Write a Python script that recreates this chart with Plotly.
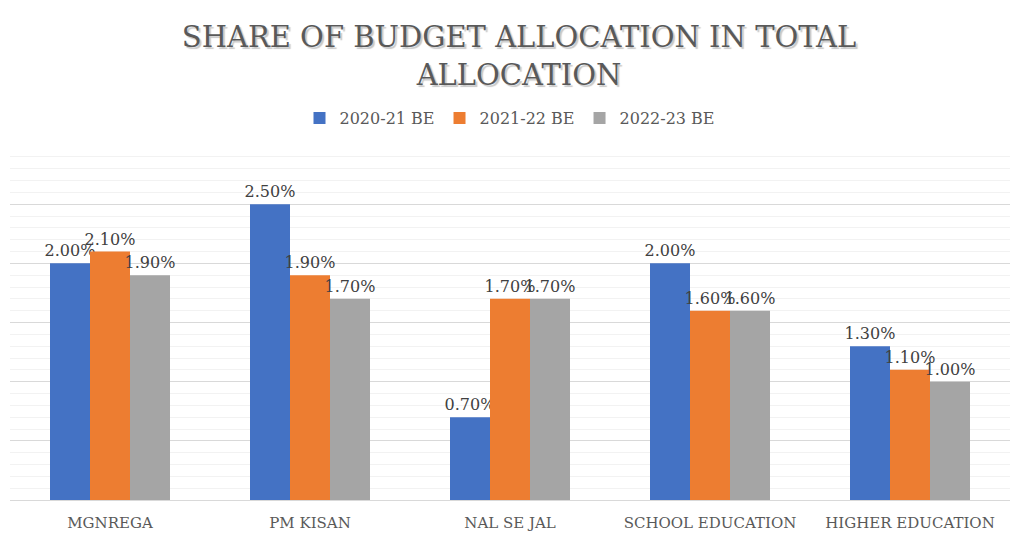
import plotly.graph_objects as go

categories = ["MGNREGA", "PM KISAN", "NAL SE JAL", "SCHOOL EDUCATION", "HIGHER EDUCATION"]
series_names = ["2020-21 BE", "2021-22 BE", "2022-23 BE"]
be_2020_21 = [2.0, 2.5, 0.7, 2.0, 1.3]
be_2021_22 = [2.1, 1.9, 1.7, 1.6, 1.1]
be_2022_23 = [1.9, 1.7, 1.7, 1.6, 1.0]
colors = ["#4472c4", "#ed7d31", "#a5a5a5"]

fig = go.Figure()
for name, vals, col in zip(series_names, [be_2020_21, be_2021_22, be_2022_23], colors):
    fig.add_trace(go.Bar(
        x=categories, y=vals, name=name,
        marker=dict(color=col, line_width=0),
        text=vals, texttemplate="%{y:.2f}%", textposition="outside",
        constraintext="none", cliponaxis=False,
        textfont=dict(family="DejaVu Serif", size=16, color="#404040"),
    ))

fig.update_layout(
    width=1022, height=540,
    margin=dict(l=2, r=20, t=137, b=48),
    paper_bgcolor="white", plot_bgcolor="white",
    barmode="group", bargap=0.4, bargroupgap=0,
    title=dict(
        text="SHARE OF BUDGET ALLOCATION IN TOTAL<br>ALLOCATION",
        x=0.5, xanchor="center", y=0.928, yanchor="middle", yref="container",
        font=dict(family="DejaVu Serif", size=29, color="#595959",
                  shadow="2px 2px 1px #c8c8c8"),
    ),
    legend=dict(
        orientation="h", x=0.5, xanchor="center", y=1.076, yanchor="middle",
        font=dict(family="DejaVu Serif", size=16, color="#595959"),
        itemwidth=30,
    ),
    showlegend=True,
)
fig.update_xaxes(
    showgrid=False, showline=True, linecolor="#d9d9d9", linewidth=1,
    ticks="", ticklabelstandoff=9,
    tickfont=dict(family="DejaVu Serif", size=15, color="#595959"),
)
fig.update_yaxes(
    range=[0, 3.0], dtick=0.5, showticklabels=False, zeroline=False,
    showgrid=True, gridcolor="#d9d9d9", gridwidth=1,
    minor=dict(dtick=0.1, showgrid=True, gridcolor="#f2f2f2", gridwidth=1),
)

fig.write_html("out.html")
